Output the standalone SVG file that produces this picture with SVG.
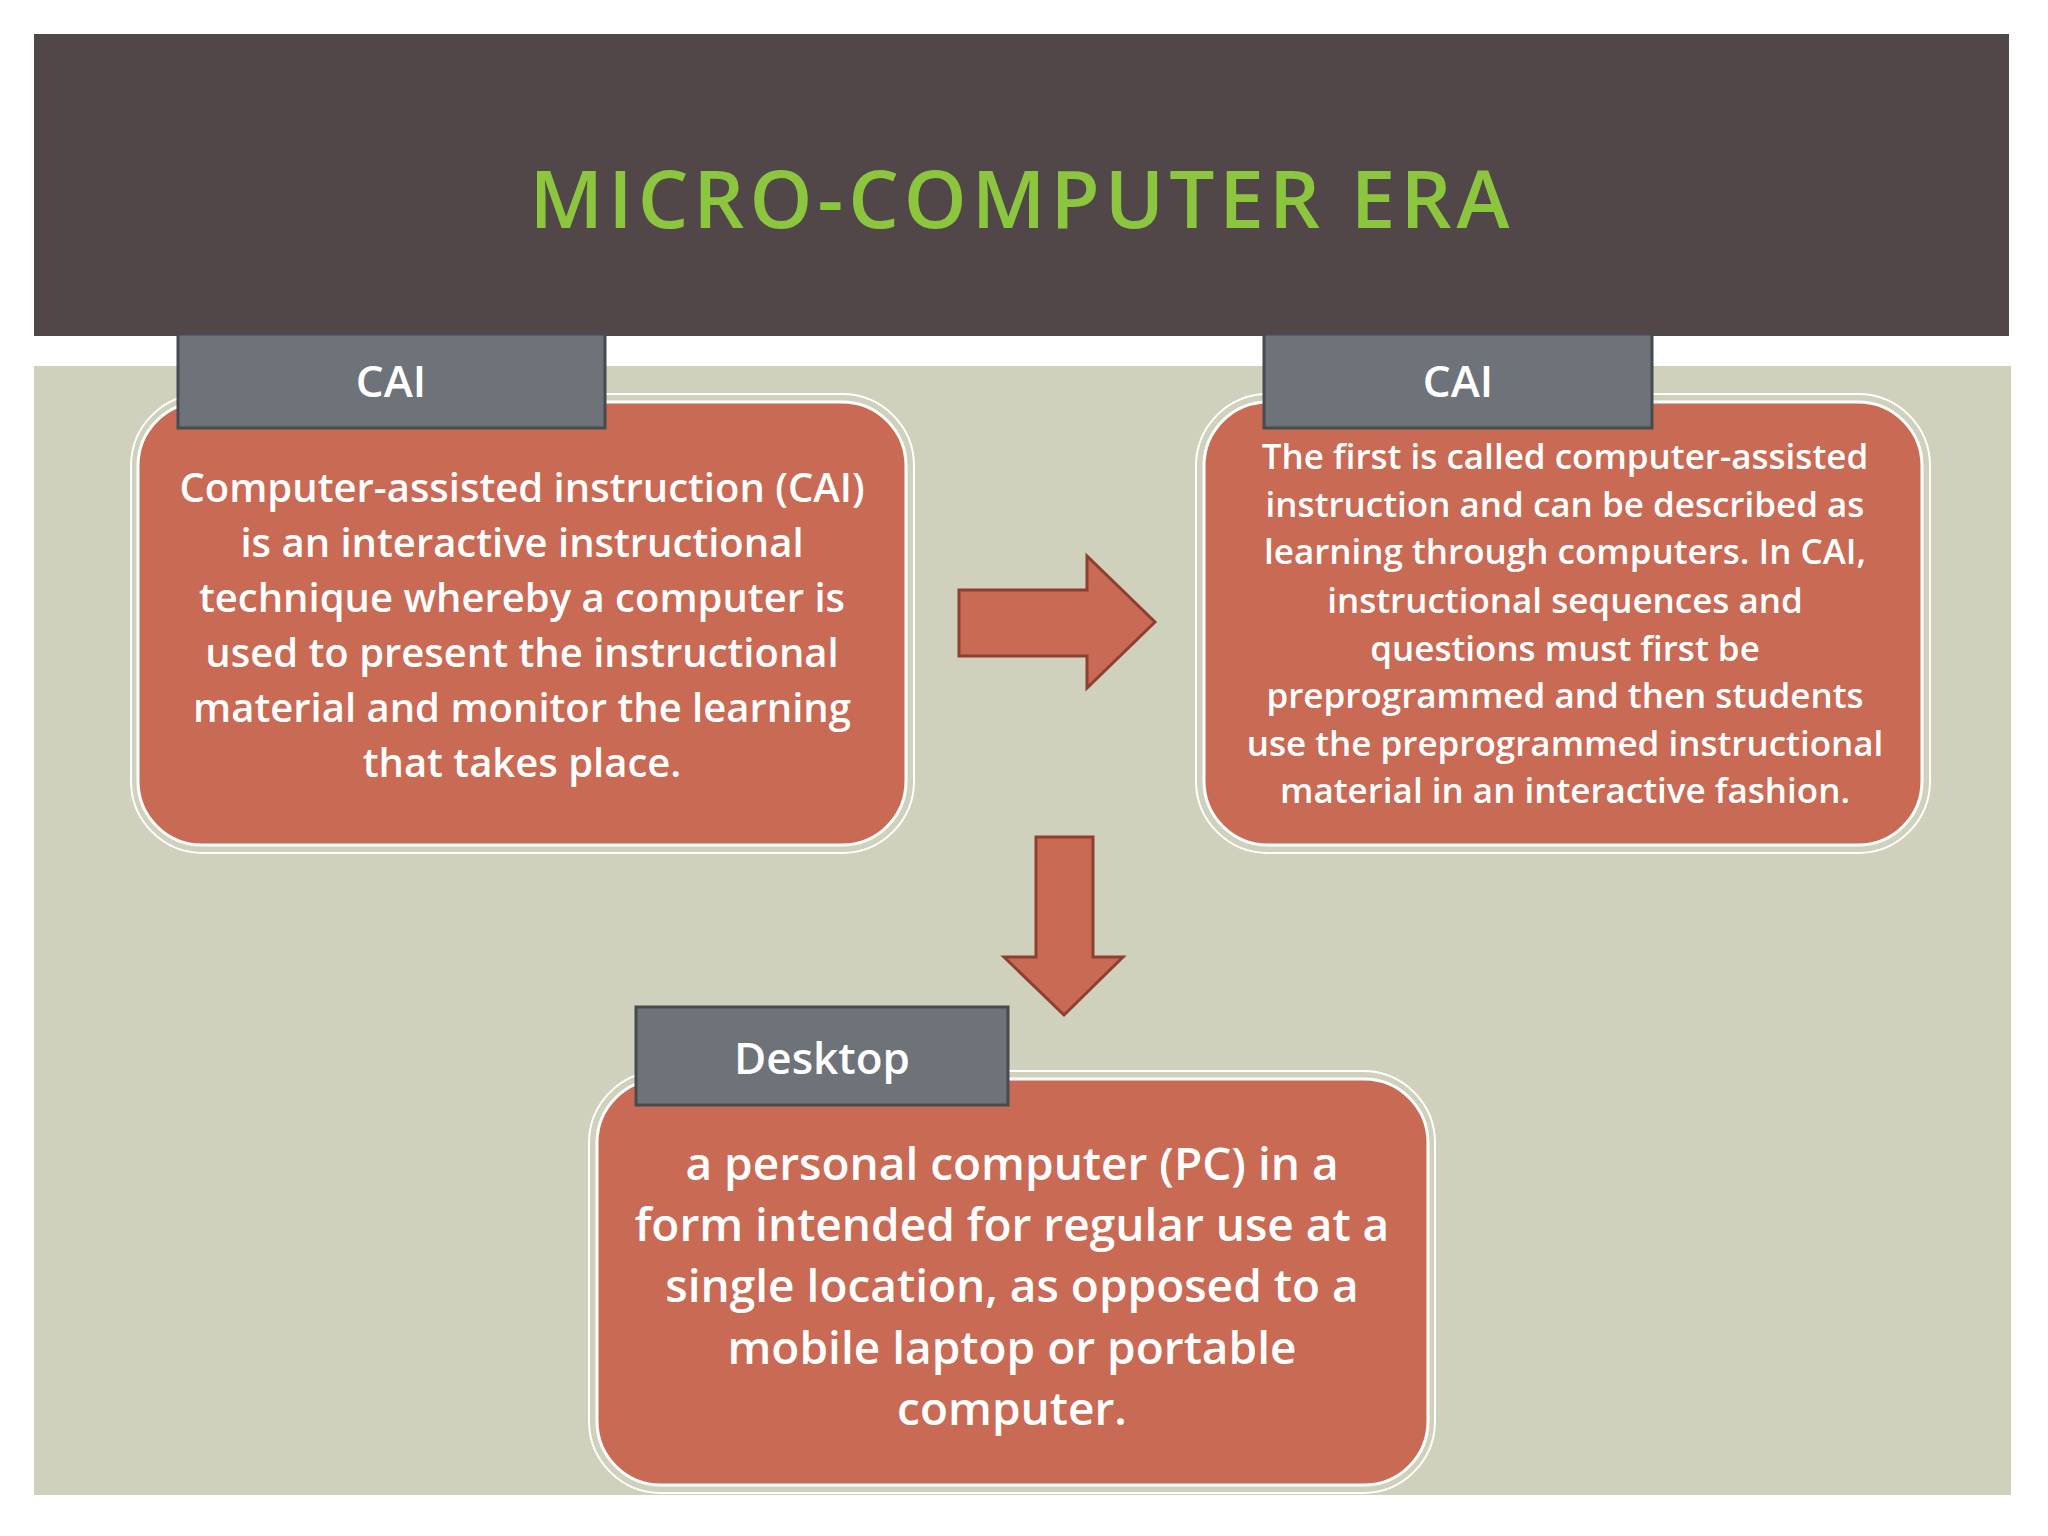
<svg xmlns="http://www.w3.org/2000/svg" width="2048" height="1536" viewBox="0 0 2048 1536">
<style>
.box{fill:#c96a55;stroke:#fff;stroke-width:3}
.outer{fill:none;stroke:#fff;stroke-width:2}
.tab{fill:#6e737a;stroke:#474b50;stroke-width:3}
.arr{fill:#c96a55;stroke:#8e3f30;stroke-width:3}
text{font-family:"Open Sans","Noto Sans",sans-serif;font-weight:600;fill:#fff;text-anchor:middle}
</style>
<rect width="2048" height="1536" fill="#fff"/>
<rect x="34" y="34" width="1975" height="302" fill="#524748"/>
<text x="1022" y="228" style="font-size:80px;fill:#8cc63f;letter-spacing:5px">MICRO-COMPUTER ERA</text>
<rect x="34" y="366" width="1977" height="1129" fill="#cfd1bc"/>
<g id="connectors">
<polygon class="arr" points="959,590 1087,590 1087,556 1155,622 1087,688 1087,656 959,656"/>
<polygon class="arr" points="1036,837 1093,837 1093,957 1123,957 1064,1015 1004,957 1036,957"/>
</g>
<g id="node1">
<rect class="outer" x="131" y="394" width="783" height="459" rx="72"/>
<rect class="box" x="138" y="402" width="768" height="443" rx="64"/>
<rect class="tab" x="178" y="334" width="427" height="94"/>
<text x="391" y="397" style="font-size:44px">CAI</text>
<text style="font-size:40px"><tspan x="522" y="502">Computer-assisted instruction (CAI)</tspan><tspan x="522" y="557">is an interactive instructional</tspan><tspan x="522" y="612">technique whereby a computer is</tspan><tspan x="522" y="667">used to present the instructional</tspan><tspan x="522" y="722">material and monitor the learning</tspan><tspan x="522" y="777">that takes place.</tspan></text>
</g>
<g id="node2">
<rect class="outer" x="1196" y="394" width="734" height="459" rx="72"/>
<rect class="box" x="1204" y="402" width="718" height="443" rx="64"/>
<rect class="tab" x="1264" y="334" width="388" height="94"/>
<text x="1458" y="397" style="font-size:44px">CAI</text>
<text style="font-size:35px"><tspan x="1565" y="469">The first is called computer-assisted</tspan><tspan x="1565" y="517">instruction and can be described as</tspan><tspan x="1565" y="564">learning through computers. In CAI,</tspan><tspan x="1565" y="613">instructional sequences and</tspan><tspan x="1565" y="661">questions must first be</tspan><tspan x="1565" y="708">preprogrammed and then students</tspan><tspan x="1565" y="756">use the preprogrammed instructional</tspan><tspan x="1565" y="803">material in an interactive fashion.</tspan></text>
</g>
<g id="node3">
<rect class="outer" x="589" y="1071" width="846" height="422" rx="72"/>
<rect class="box" x="597" y="1079" width="831" height="406" rx="64"/>
<rect class="tab" x="636" y="1007" width="372" height="98"/>
<text x="822" y="1074" style="font-size:44px">Desktop</text>
<text style="font-size:46px"><tspan x="1012" y="1180">a personal computer (PC) in a</tspan><tspan x="1012" y="1241">form intended for regular use at a</tspan><tspan x="1012" y="1302">single location, as opposed to a</tspan><tspan x="1012" y="1364">mobile laptop or portable</tspan><tspan x="1012" y="1425">computer.</tspan></text>
</g>
</svg>
